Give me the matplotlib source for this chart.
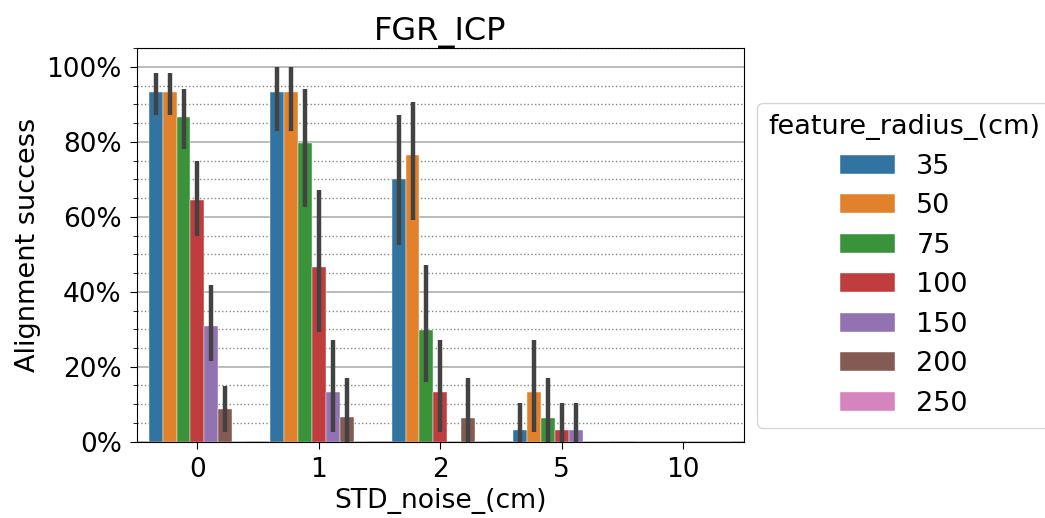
import matplotlib
matplotlib.use('Agg')
import matplotlib.pyplot as plt
from matplotlib.ticker import PercentFormatter, MultipleLocator
import numpy as np

# STD noise levels (x categories) and feature radius (hue)
noise_levels = ['0', '1', '2', '5', '10']
radii = ['35', '50', '75', '100', '150', '200', '250']
colors = ['#3274a1', '#e1812c', '#3a923a', '#c03d3e', '#9372b2', '#845b53', '#d684bd']

# mean alignment success (%) per radius, across noise levels
mean_35 = [93.3, 93.3, 70.0, 3.2, 0]
mean_50 = [93.3, 93.3, 76.5, 13.2, 0]
mean_75 = [86.7, 79.8, 29.9, 6.4, 0]
mean_100 = [64.4, 46.5, 13.2, 3.2, 0]
mean_150 = [30.9, 13.2, 0, 3.2, 0]
mean_200 = [8.7, 6.5, 6.4, 0, 0]
mean_250 = [0, 0, 0, 0, 0]

# 95% CI lower / upper bounds (%)
lo_35 = [87.1, 82.8, 52.6, 0, 0]
hi_35 = [98.4, 100, 87.3, 10.4, 0]
lo_50 = [87.1, 82.8, 59.3, 2.7, 0]
hi_50 = [98.4, 100, 90.6, 27.2, 0]
lo_75 = [78.2, 62.7, 15.8, 0, 0]
hi_75 = [94.0, 94.0, 47.1, 17.1, 0]
lo_100 = [54.9, 29.3, 2.7, 0, 0]
hi_100 = [75.0, 67.2, 27.2, 10.4, 0]
lo_150 = [21.5, 2.7, 0, 0, 0]
hi_150 = [41.7, 27.1, 0, 10.4, 0]
lo_200 = [2.7, 0, 0, 0, 0]
hi_200 = [14.9, 17.1, 17.1, 0, 0]
lo_250 = [0, 0, 0, 0, 0]
hi_250 = [0, 0, 0, 0, 0]

means = [mean_35, mean_50, mean_75, mean_100, mean_150, mean_200, mean_250]
lows = [lo_35, lo_50, lo_75, lo_100, lo_150, lo_200, lo_250]
highs = [hi_35, hi_50, hi_75, hi_100, hi_150, hi_200, hi_250]

fig = plt.figure(figsize=(10.45, 5.18), dpi=100)
ax = fig.add_axes([0.1308, 0.1473, 0.5811, 0.7595])

x = np.arange(len(noise_levels))
n = len(radii)
w = 0.8 / n
for i in range(n):
    pos = x - 0.4 + w * (i + 0.5)
    ax.bar(pos, np.array(means[i]) / 100, width=w, color=colors[i], label=radii[i],
           edgecolor='white', linewidth=0.3, zorder=2)
    ax.vlines(pos, np.array(lows[i]) / 100, np.array(highs[i]) / 100,
              color='#424242', linewidth=3.2, zorder=3)

ax.set_xlim(-0.5, len(noise_levels) - 0.5)
ax.set_ylim(0, 1.05)
ax.set_xticks(x)
ax.set_xticklabels(noise_levels)
ax.yaxis.set_major_locator(MultipleLocator(0.2))
ax.yaxis.set_minor_locator(MultipleLocator(0.05))
ax.yaxis.set_major_formatter(PercentFormatter(1.0, decimals=0))
ax.grid(axis='y', which='major', color='#b0b0b0', linewidth=1.2, zorder=0)
ax.grid(axis='y', which='minor', color='#888888', linestyle=':', linewidth=1.0, zorder=0)
ax.set_axisbelow(True)
ax.tick_params(axis='both', which='major', labelsize=19, length=4.8, pad=6)
ax.tick_params(axis='y', which='minor', length=3)

ax.set_title('FGR_ICP', fontsize=23)
ax.set_xlabel('STD_noise_(cm)', fontsize=19.2)
ax.set_ylabel('Alignment success', fontsize=19.5)

ax.legend(title='feature_radius_(cm)', loc='center left', bbox_to_anchor=(1.022, 0.448),
          borderaxespad=0, fontsize=19.5, title_fontsize=19.5)

fig.savefig('out.png', dpi=100)
